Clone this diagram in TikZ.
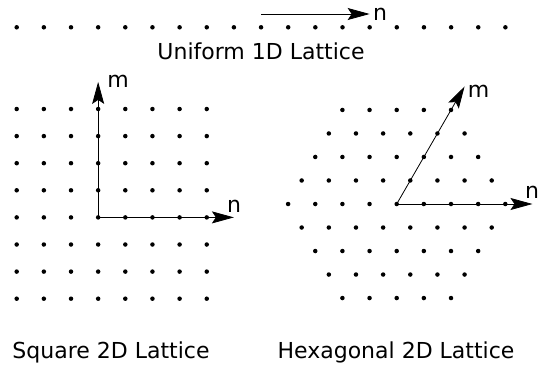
\documentclass[tikz,border=0pt]{standalone}
\usepackage{fontspec}
\setmainfont{DejaVu Sans}
\usetikzlibrary{arrows.meta}
\tikzset{
  dot/.style={circle,fill=black,inner sep=0pt,minimum size=4.5pt},
  vec/.style={line width=0.8pt,-{Stealth[length=22pt,width=12pt,inset=4pt]}},
  lbl/.style={anchor=base,inner sep=0pt,font=\fontsize{22}{26}\selectfont},
}
\begin{document}
\begin{tikzpicture}[x=1pt,y=-1pt]
\useasboundingbox (0,0) rectangle (540,364);
% 1D lattice
\foreach \i in {0,...,18}{
  \node[dot] (u\i) at ({16.7+27.15*\i},27.3) {};
}
\coordinate (ua) at ({16.7+27.15*9},14);
\coordinate (ub) at ({16.7+27.15*13},14);
\draw[vec] (ua) -- (ub);
\node[lbl] (un) at (380,20) {n};
\node[lbl] (ut) at (261,59) {Uniform 1D Lattice};
% square lattice
\foreach \i in {0,...,7}{
  \foreach \j in {0,...,7}{
    \node[dot] (s\i-\j) at ({16.7+27.15*\i},{109+27.1*\j}) {};
  }
}
\coordinate (sn) at ({16.7+27.15*8},{109+27.1*4});
\coordinate (sm) at ({16.7+27.15*3},{109+27.1*(-1)});
\draw[vec] (s3-4.center) -- (sn);
\draw[vec] (s3-4.center) -- (sm);
\node[lbl] (snl) at (234,212) {n};
\node[lbl] (sml) at (118,87) {m};
\node[lbl] (st) at (111,358) {Square 2D Lattice};
% hexagonal lattice
\foreach \j in {-4,...,4}{
  \pgfmathtruncatemacro{\n}{8-abs(\j)}
  \foreach \k in {0,...,\n}{
    \node[dot] (h\j-\k) at ({396.7+27.15*(\k-\n/2)},{204+23.51*\j}) {};
  }
}
\coordinate (ho) at (396.7,204);
\coordinate (hn) at ({396.7+27.15*5},204);
\coordinate (hm) at ({396.7+27.15*2.5},{204-23.51*5});
\draw[vec] (ho) -- (hn);
\draw[vec] (ho) -- (hm);
\node[lbl] (hnl) at (532,198) {n};
\node[lbl] (hml) at (478.5,97) {m};
\node[lbl] (ht) at (396,358) {Hexagonal 2D Lattice};
\end{tikzpicture}
\end{document}
